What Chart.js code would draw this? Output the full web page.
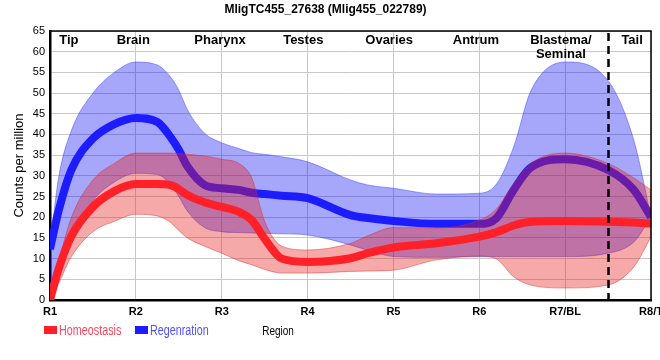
<!DOCTYPE html>
<html>
<head>
<meta charset="utf-8">
<script src="https://cdn.jsdelivr.net/npm/chart.js@4.4.0/dist/chart.umd.min.js"></script>
<style>
    html, body { margin: 0; padding: 0; background: #fff; }
</style>
</head>
<body>
<canvas id="myChart" width="660" height="360"></canvas>
<script>
// data ===============================================================
const regionTicks = ["R1", "R2", "R3", "R4", "R5", "R6", "R7/BL", "R8/T"];
const regionNames = ["Tip", "Brain", "Pharynx", "Testes", "Ovaries", "Antrum", "Blastema/\nSeminal", "Tail"];
const regionNamePos = [0.22, 0.97, 1.98, 2.95, 3.95, 4.96, 5.95, 6.78];
const tailBoundary = [6.5];

// positions along the body, 0 = R1 ... 7 = R8/T
const samplePos = [0, 0.1, 0.25, 0.5, 0.75, 1, 1.25, 1.4, 1.5, 1.6, 1.8, 2, 2.2, 2.35, 2.5, 2.7, 3, 3.5, 3.7, 4, 4.5, 5, 5.2, 5.4, 5.6, 6, 6.5, 6.8, 7];

const homeoMean = [0, 7.5, 15.5, 22.5, 26.3, 28, 28, 27.8, 26.8, 25.4, 23.6, 22.5, 21.3, 19.3, 14.8, 10, 9.2, 10.1, 11.3, 12.7, 13.7, 15.3, 16.4, 18, 18.9, 19.1, 18.9, 18.7, 18.5];
const homeoHigh = [0, 9, 20, 29, 33, 35.5, 35.5, 35.5, 35.4, 35.2, 34.8, 34, 33, 29.5, 19, 13, 12.1, 13.7, 15.5, 17.5, 17.4, 19.3, 22, 28, 33, 35.5, 33, 29.5, 26.6];
const homeoLow = [0, 4, 10.5, 16.5, 19, 20.7, 20.3, 18.8, 16.8, 15, 13, 11.3, 9.5, 8.5, 7.4, 6.5, 6.5, 6.9, 7, 7.2, 9.7, 10.6, 9.9, 5.6, 3.6, 2.9, 3.6, 8, 15.2];

const regenMean = [12.3, 21.5, 31.5, 39, 42.5, 44, 43, 39.5, 36.3, 32.3, 27.8, 27, 26.6, 25.9, 25.6, 25.2, 24.6, 20.5, 19.8, 19.1, 18.4, 18.4, 19.8, 26.6, 32, 34, 31.4, 26.6, 20];
const regenHigh = [13, 29.5, 41, 50, 55, 57.5, 56.8, 54, 50.7, 46, 40.3, 38, 36.6, 35.6, 35.2, 34.6, 33.4, 29, 27.8, 27, 25.6, 25.8, 28, 37, 50.5, 57.5, 53, 38.6, 20];
const regenLow = [1, 7, 15, 24, 28.5, 30.6, 30.3, 28, 25, 21.5, 17.5, 16.5, 16.3, 16.2, 16.1, 16, 15.7, 13.3, 12, 10.5, 10.3, 10.5, 10.5, 10.5, 10.5, 10.5, 11.3, 14, 20];

// helpers ===============================================================
function pts(values) {
    return samplePos.map((p, i) => ({ x: p, y: values[i] }));
}

function meanLine(label, values, color, legendText) {
    return {
        label: label,
        data: pts(values),
        borderColor: color,
        backgroundColor: color,
        legendText: legendText,
        borderWidth: 8,
        borderCapStyle: "butt",
        pointRadius: 0,
        fill: false,
        cubicInterpolationMode: "monotone",
    };
}

function bandEdge(values, edgeColor, fillColor, fillTo) {
    return {
        label: "",
        data: pts(values),
        borderColor: edgeColor,
        backgroundColor: fillColor,
        borderWidth: 1,
        pointRadius: 0,
        fill: fillTo,
        cubicInterpolationMode: "monotone",
    };
}

const SANS = "'Liberation Sans', Arial, sans-serif";

// first dataset is painted last (on top)
const datasets = [
    meanLine("Homeostasis", homeoMean, "rgb(255, 32, 40)", "rgb(255, 70, 95)"),
    bandEdge(homeoHigh, "rgba(225, 40, 40, 0.45)", "rgba(230, 30, 30, 0.38)", "+1"),
    bandEdge(homeoLow, "rgba(225, 40, 40, 0.45)", "rgba(230, 30, 30, 0.38)", false),
    meanLine("Regenration", regenMean, "rgb(28, 28, 255)", "rgb(80, 80, 255)"),
    bandEdge(regenHigh, "rgba(60, 60, 240, 0.45)", "rgba(0, 0, 240, 0.35)", "+1"),
    bandEdge(regenLow, "rgba(60, 60, 240, 0.45)", "rgba(0, 0, 240, 0.35)", false),
];

// plugins ===============================================================
const tailDivider = {
    id: "tailDivider",
    afterDatasetsDraw(chart) {
        const { ctx, chartArea, scales: { x } } = chart;
        ctx.save();
        ctx.strokeStyle = "black";
        ctx.lineWidth = 2.5;
        ctx.setLineDash([8, 5]);
        tailBoundary.forEach(v => {
            const px = Math.round(x.getPixelForValue(v)) + 0.5;
            ctx.beginPath();
            ctx.moveTo(px, chartArea.top + 2);
            ctx.lineTo(px, chartArea.bottom + 5);
            ctx.stroke();
        });
        ctx.restore();
    }
};

// narrow text (no condensed face installed, so squeeze it)
function narrowText(ctx, text, x, y, squeeze) {
    ctx.save();
    ctx.translate(x, y);
    ctx.scale(squeeze, 1);
    ctx.fillText(text, 0, 0);
    ctx.restore();
}

const decorations = {
    id: "decorations",
    afterDraw(chart) {
        const { ctx, chartArea: { left, top, right, bottom }, scales: { x } } = chart;
        ctx.save();
        // frame top / right
        ctx.strokeStyle = "black";
        ctx.lineWidth = 1.5;
        ctx.beginPath();
        ctx.moveTo(left, top);
        ctx.lineTo(right, top);
        ctx.lineTo(right, bottom);
        ctx.stroke();

        // region names
        ctx.fillStyle = "black";
        ctx.font = "bold 13px " + SANS;
        ctx.textAlign = "center";
        ctx.textBaseline = "middle";
        regionNames.forEach((name, i) => {
            const px = x.getPixelForValue(regionNamePos[i]);
            name.split("\n").forEach((line, j) => {
                ctx.fillText(line, px, top + 9 + j * 14);
            });
        });

        // legend + axis title row
        ctx.textAlign = "left";
        ctx.textBaseline = "alphabetic";
        ctx.font = "14px " + SANS;
        let lx = 44;
        chart.data.datasets.filter(d => d.label).forEach(d => {
            ctx.fillStyle = d.borderColor;
            ctx.fillRect(lx, 326, 13, 8);
            ctx.fillStyle = d.legendText;
            narrowText(ctx, d.label, lx + 15, 335, 0.77);
            lx += 91;
        });
        ctx.fillStyle = "black";
        ctx.font = "13.5px " + SANS;
        ctx.textAlign = "center";
        narrowText(ctx, "Region", 278, 335, 0.74);
        ctx.restore();
    }
};

// chart ===============================================================
function plot_chart() {
    let ctx = document.getElementById("myChart");
    let options = {
        responsive: false,
        animation: false,
        devicePixelRatio: 1,
        layout: { padding: { left: 0, right: 9, top: 0, bottom: 0 } },
        plugins: {
            legend: { display: false },
            tooltip: { enabled: false },
            title: {
                display: true,
                text: "MligTC455_27638 (Mlig455_022789)",
                color: "black",
                font: { family: SANS, size: 12, weight: "bold" },
                padding: { top: 2, bottom: 14.6 },
            },
        },
        scales: {
            x: {
                type: "linear",
                min: 0,
                max: regionTicks.length - 1,
                ticks: {
                    stepSize: 1,
                    autoSkip: false,
                    maxRotation: 0,
                    padding: 5,
                    color: "black",
                    font: { family: SANS, size: 11, weight: "bold" },
                    callback: v => regionTicks[v] ?? "",
                },
                grid: { color: "#c8c8c8", lineWidth: 1, drawTicks: false },
                border: { color: "black", width: 2.5 },
                afterFit: s => { s.height = 60; s.paddingLeft = 0; s.paddingRight = 0; },
            },
            y: {
                min: 0,
                max: 65,
                ticks: {
                    stepSize: 5,
                    padding: 5,
                    color: "black",
                    font: { family: SANS, size: 11 },
                },
                grid: { color: "#c8c8c8", lineWidth: 1, drawTicks: false },
                border: { color: "black", width: 2.5 },
                title: {
                    display: true,
                    text: "Counts per million",
                    color: "black",
                    font: { family: SANS, size: 13 },
                    padding: { top: 12, bottom: 0 },
                },
                afterFit: s => { s.width = 50; },
            },
        },
    };
    new Chart(ctx, {
        type: "line",
        data: { datasets: datasets },
        options: options,
        plugins: [tailDivider, decorations],
    });
}
plot_chart();
</script>
</body>
</html>
